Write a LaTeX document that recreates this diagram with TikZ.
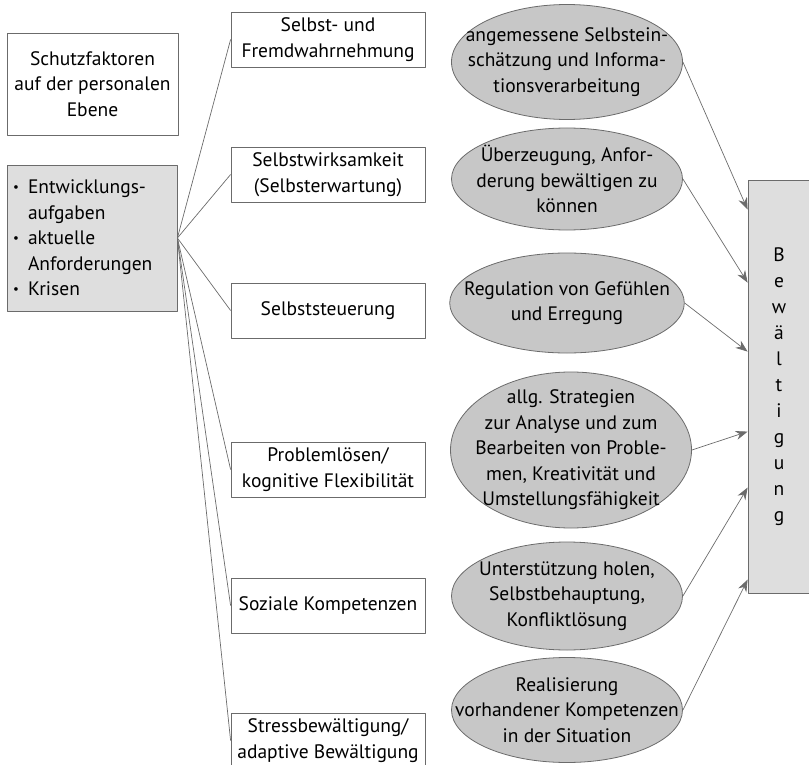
\documentclass[tikz,border=0pt]{standalone}
\usepackage{fontspec}
\setmainfont{PT Sans}
\usetikzlibrary{shapes.geometric,arrows.meta}
\definecolor{rahmen}{gray}{0.42}
\definecolor{hellgrau}{gray}{0.87}
\definecolor{mittelgrau}{gray}{0.78}
\newcommand{\pkt}{\makebox[15pt][l]{\raisebox{0.12em}{\fontsize{13}{13}\selectfont\textbullet}}}
\begin{document}
\begin{tikzpicture}[x=1pt, y=-1pt, font=\fontsize{19.5}{25.5}\selectfont, line join=round,
	box/.style={draw=rahmen, line width=0.8pt, align=center, inner sep=0pt, minimum width=194pt, minimum height=55pt},
	oval/.style={ellipse, draw=rahmen, fill=mittelgrau, line width=0.8pt, align=center, inner sep=-20pt, minimum width=231pt},
	verb/.style={draw=rahmen, line width=0.7pt},
	pfeil/.style={verb, -{Stealth[length=12pt,width=9pt]}}]
	\useasboundingbox (0,0) rectangle (809,765);
	\clip (0,0) rectangle (809,765);
	% linke Spalte
	\node[box, minimum width=171pt, minimum height=102pt] (schutz) at (92.5,84) {Schutzfaktoren\\auf der personalen\\Ebene};
	\node[box, fill=hellgrau, minimum width=170pt, minimum height=146pt, align=left, text width=158pt] (belast) at (92,238)
		{\pkt Entwicklungs-\\\hspace*{15pt}aufgaben\\\pkt aktuelle\\\hspace*{15pt}Anforderungen\\\pkt Krisen};
	% mittlere Spalte
	\node[box] (wahr) at (328,39.5) {Selbst- und\\Fremdwahrnehmung};
	\node[box] (wirk) at (328,174.5) {Selbstwirksamkeit\\(Selbsterwartung)};
	\node[box] (steuer) at (328,310.5) {Selbststeuerung};
	\node[box] (problem) at (328,469.5) {Problemlösen/\\kognitive Flexibilität};
	\node[box] (sozial) at (328,605.5) {Soziale Kompetenzen};
	\node[box] (stress) at (328,740.5) {Stressbewältigung/\\adaptive Bewältigung};
	% Ellipsen
	\node[oval, minimum height=115pt] (ewahr) at (567,62) {angemessene Selbstein-\\schätzung und Informa-\\tionsverarbeitung};
	\node[oval, minimum height=102pt] (ewirk) at (567,179) {Überzeugung, Anfor-\\derung bewältigen zu\\können};
	\node[oval, minimum height=100pt] (esteuer) at (567,303) {Regulation von Gefühlen\\und Erregung};
	\node[oval, minimum width=241pt, minimum height=156pt] (eproblem) at (571,450) {allg. Strategien\\zur Analyse und zum\\Bearbeiten von Proble-\\men, Kreativität und\\Umstellungsfähigkeit};
	\node[oval, minimum height=108pt] (esozial) at (567,596) {Unterstützung holen,\\Selbstbehauptung,\\Konfliktlösung};
	\node[oval, minimum height=105pt, inner xsep=-40pt] (estress) at (567,710) {Realisierung\\vorhandener Kompetenzen\\in der Situation};
	% rechte Spalte
	\node[box, fill=hellgrau, minimum width=62pt, minimum height=413pt, font=\fontsize{19.5}{26}\selectfont] (bew) at (779,386.5) {B\\e\\w\\ä\\l\\t\\i\\g\\u\\n\\g};
	\foreach \n in {wahr,wirk,steuer,problem,sozial,stress}
		\draw[verb] (belast.east) -- (\n.west);
	\foreach \e/\d in {ewahr/30,ewirk/103,esteuer/172,eproblem/252,esozial/308,estress/400}
		\draw[pfeil] (\e.east) -- ([yshift=-\d]bew.north west);
\end{tikzpicture}
\end{document}
